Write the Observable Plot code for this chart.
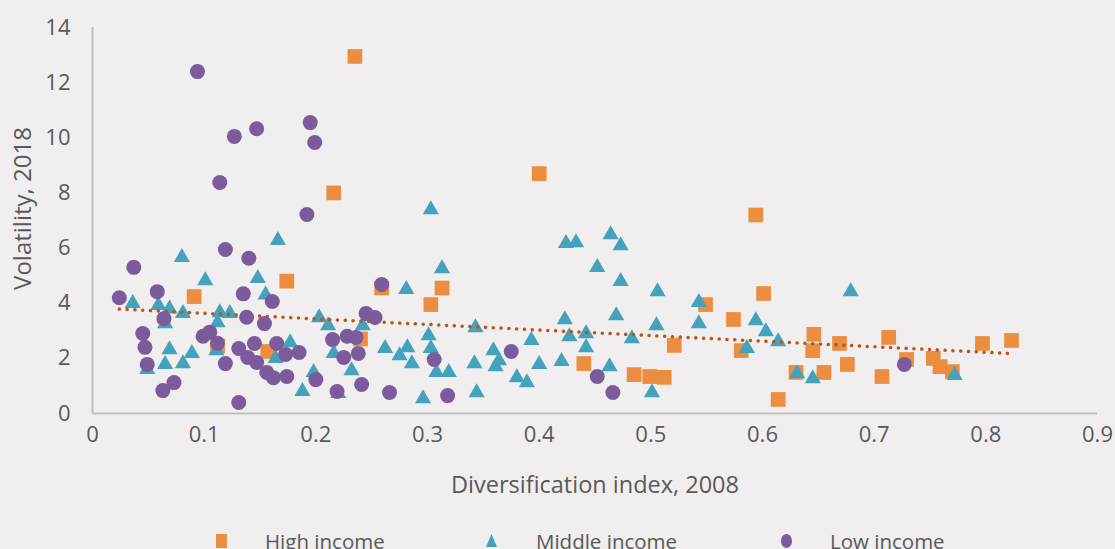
<!DOCTYPE html>
<html>
<head>
<meta charset="utf-8">
<script src="https://cdn.jsdelivr.net/npm/d3@7"></script>
<script src="https://cdn.jsdelivr.net/npm/@observablehq/plot@0.6"></script>
<style>
  html, body { margin: 0; padding: 0; background: #f0eeef; overflow: hidden; }
  body { width: 1115px; height: 549px; position: relative; font-family: "Open Sans", sans-serif; }
  #chart { position: absolute; left: 0; top: 0; }
  #legend { position: absolute; left: 0; top: 527px; width: 1115px; height: 30px; font-size: 20.5px; color: #595959; }
  #legend .item { position: absolute; top: 0; display: flex; align-items: center; white-space: nowrap; }
</style>
</head>
<body>
<div id="chart"></div>
<div id="legend"></div>
<script>
// Diversification index 2008 (x) and Volatility 2018 (y) by income group
const highX = [0.235,0.216,0.400,0.594,0.091,0.174,0.259,0.303,0.313,0.240,0.112,0.157,0.440,0.485,0.601,0.549,0.574,0.521,0.581,0.499,0.512,0.646,0.645,0.630,0.655,0.669,0.676,0.614,0.713,0.707,0.729,0.753,0.759,0.770,0.797,0.823];
const highY = [12.95,8.0,8.7,7.2,4.24,4.8,4.55,3.95,4.55,2.7,2.45,2.25,1.81,1.41,4.35,3.95,3.41,2.47,2.28,1.34,1.31,2.87,2.28,1.49,1.49,2.54,1.78,0.51,2.76,1.34,1.96,2.0,1.70,1.52,2.54,2.65];

const middleX = [0.166,0.080,0.101,0.148,0.155,0.036,0.059,0.069,0.081,0.065,0.114,0.123,0.112,0.203,0.211,0.242,0.069,0.089,0.065,0.081,0.049,0.111,0.177,0.164,0.216,0.198,0.232,0.188,0.220,0.313,0.281,0.303,0.343,0.301,0.303,0.262,0.282,0.275,0.286,0.308,0.319,0.342,0.344,0.296,0.359,0.364,0.361,0.380,0.389,0.393,0.400,0.420,0.423,0.427,0.442,0.442,0.424,0.433,0.464,0.473,0.452,0.473,0.469,0.463,0.483,0.506,0.543,0.543,0.505,0.501,0.594,0.603,0.614,0.586,0.679,0.631,0.645,0.772];
const middleY = [6.28,5.66,4.82,4.9,4.3,4.0,3.92,3.8,3.63,3.26,3.66,3.63,3.3,3.48,3.19,3.19,2.32,2.18,1.78,1.81,1.6,2.28,2.57,2.0,2.18,1.49,1.56,0.8,0.73,5.26,4.5,7.4,3.12,2.83,2.36,2.36,2.39,2.1,1.81,1.49,1.49,1.81,0.76,0.54,2.28,1.92,1.7,1.3,1.12,2.65,1.78,1.89,3.41,2.79,2.9,2.39,6.17,6.2,6.49,6.09,5.3,4.79,3.55,1.7,2.72,4.42,4.03,3.26,3.19,0.76,3.37,2.97,2.61,2.36,4.42,1.45,1.27,1.38];

const lowX = [0.094,0.127,0.147,0.195,0.199,0.114,0.192,0.037,0.119,0.140,0.024,0.058,0.135,0.161,0.064,0.138,0.154,0.245,0.253,0.259,0.045,0.047,0.049,0.063,0.073,0.099,0.105,0.112,0.119,0.131,0.131,0.139,0.145,0.147,0.165,0.173,0.185,0.156,0.162,0.174,0.200,0.215,0.228,0.236,0.238,0.225,0.219,0.241,0.266,0.306,0.318,0.375,0.452,0.466,0.727];
const lowY = [12.4,10.05,10.33,10.55,9.83,8.38,7.22,5.3,5.95,5.63,4.2,4.42,4.34,4.06,3.44,3.49,3.26,3.63,3.48,4.68,2.9,2.4,1.78,0.83,1.12,2.8,2.95,2.55,1.81,2.36,0.4,2.03,2.54,1.85,2.54,2.14,2.21,1.49,1.3,1.34,1.23,2.68,2.8,2.76,2.18,2.03,0.8,1.05,0.76,1.96,0.65,2.25,1.34,0.76,1.78];

const xTicks = [0,0.1,0.2,0.3,0.4,0.5,0.6,0.7,0.8,0.9];
const xTickLabels = ["0","0.1","0.2","0.3","0.4","0.5","0.6","0.7","0.8","0.9"];
const yTicks = [0,2,4,6,8,10,12,14];
const seriesNames = ["High income","Middle income","Low income"];
const colors = ["#ec8d40","#43a3bc","#7b5b9c"];
const trendColor = "#b9561a";

const toRows = (xs, ys, g) => xs.map((x, i) => ({x, y: ys[i], group: g}));
const high = toRows(highX, highY, seriesNames[0]);
const middle = toRows(middleX, middleY, seriesNames[1]);
const low = toRows(lowX, lowY, seriesNames[2]);
const all = [...high, ...middle, ...low];

const W = 1115, H = 505;
const marginLeft = 92, marginRight = 18;
const frameMidX = (marginLeft + (W - marginRight)) / 2;
const chart = Plot.plot({
  width: W,
  height: H,
  marginLeft,
  marginRight,
  marginTop: 27,
  marginBottom: H - 413,
  style: {background: "transparent", fontFamily: "'Open Sans', sans-serif", color: "#595959"},
  x: {domain: [0, 0.9]},
  y: {domain: [0, 14]},
  marks: [
    Plot.ruleY([0], {stroke: "#bfbfbf", strokeWidth: 2}),
    Plot.ruleX([0], {stroke: "#bfbfbf", strokeWidth: 2}),
    Plot.axisX({ticks: xTicks, tickFormat: (d, i) => xTickLabels[i], tickSize: 0, tickPadding: 13, fontSize: 22, fill: "#595959", label: null}),
    Plot.axisY({ticks: yTicks, tickSize: 0, tickPadding: 22, fontSize: 22, fill: "#595959", label: null}),
    Plot.text(["Diversification index, 2008"], {frameAnchor: "bottom", dy: 79, fontSize: 23.5, fill: "#595959"}),
    Plot.text(["Volatility, 2018"], {frameAnchor: "middle", textAnchor: "middle", dx: 23 - frameMidX, dy: -12, rotate: -90, fontSize: 24, fill: "#595959"}),
    Plot.dot(high, {x: "x", y: "y", symbol: "square", r: 8.3, fill: colors[0], stroke: "none"}),
    Plot.dot(middle, {x: "x", y: "y", symbol: "triangle", r: 6, fill: colors[1], stroke: "none"}),
    Plot.linearRegressionY(all, {x: "x", y: "y", ci: 0, stroke: trendColor, strokeWidth: 3.5, strokeDasharray: "0.1,7.7", strokeLinecap: "round"}),
    Plot.dot(low, {x: "x", y: "y", symbol: "circle", r: 7.5, fill: colors[2], stroke: "none"})
  ]
});
document.getElementById("chart").appendChild(chart);

// legend
const legend = document.getElementById("legend");
const legendX = [214, 484, 779];
const shapes = [
  '<rect x="2" y="4" width="11" height="14" fill="' + colors[0] + '"/>',
  '<path d="M7.5,4 L13,17 L2,17 Z" fill="' + colors[1] + '"/>',
  '<ellipse cx="7.5" cy="11" rx="5.5" ry="7" fill="' + colors[2] + '"/>'
];
const gaps = [36, 37, 36];
seriesNames.forEach((name, i) => {
  const item = document.createElement("div");
  item.className = "item";
  item.style.left = legendX[i] + "px";
  item.innerHTML = '<svg width="15" height="22">' + shapes[i] + '</svg><span style="margin-left:' + gaps[i] + 'px">' + name + '</span>';
  legend.appendChild(item);
});
</script>
</body>
</html>
